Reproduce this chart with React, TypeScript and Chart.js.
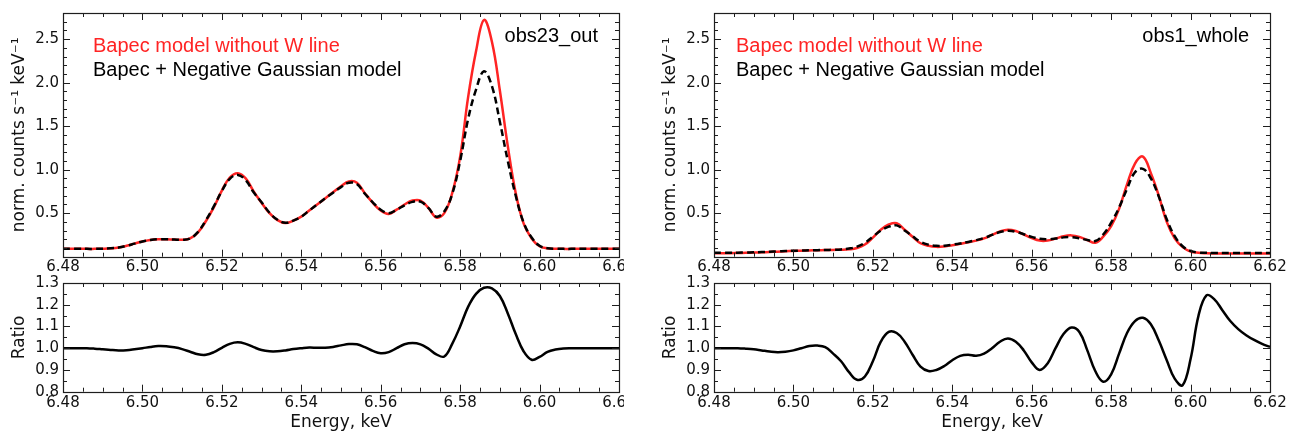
import React, { useEffect, useRef } from "react";
import { Chart, registerables } from "chart.js";

Chart.register(...registerables);

// ---------------- data ----------------
const energy = [
  6.480, 6.482, 6.484, 6.486, 6.488, 6.490, 6.492, 6.494, 6.496, 6.498,
  6.500, 6.502, 6.504, 6.506, 6.508, 6.510, 6.512, 6.514, 6.516, 6.518,
  6.520, 6.522, 6.524, 6.526, 6.528, 6.530, 6.532, 6.534, 6.536, 6.538,
  6.540, 6.542, 6.544, 6.546, 6.548, 6.550, 6.552, 6.554, 6.556, 6.558,
  6.560, 6.562, 6.564, 6.566, 6.568, 6.570, 6.572, 6.574, 6.576, 6.578,
  6.580, 6.582, 6.584, 6.586, 6.588, 6.590, 6.592, 6.594, 6.596, 6.598,
  6.600, 6.602, 6.604, 6.606, 6.608, 6.610, 6.612, 6.614, 6.616, 6.618,
  6.620,
];

// obs23_out : Bapec model without W line
const obs23NoW = [
  0.09, 0.09, 0.09, 0.09, 0.09, 0.092, 0.096, 0.105, 0.125, 0.15,
  0.175, 0.192, 0.2, 0.2, 0.197, 0.195, 0.21, 0.28, 0.41, 0.57,
  0.76, 0.91, 0.96, 0.9, 0.75, 0.62, 0.5, 0.42, 0.386, 0.415,
  0.46, 0.53, 0.6, 0.67, 0.74, 0.81, 0.865, 0.85, 0.73, 0.62,
  0.53, 0.492, 0.54, 0.6, 0.645, 0.645, 0.56, 0.45, 0.5, 0.73,
  1.15, 1.83, 2.36, 2.72, 2.47, 1.91, 1.27, 0.73, 0.38, 0.21,
  0.12, 0.097, 0.092, 0.09, 0.09, 0.09, 0.09, 0.09, 0.09, 0.09,
  0.09,
];
// obs23_out : Bapec + Negative Gaussian model
const obs23NegGauss = [
  0.09, 0.09, 0.09, 0.09, 0.09, 0.092, 0.096, 0.105, 0.125, 0.15,
  0.175, 0.192, 0.2, 0.2, 0.197, 0.195, 0.21, 0.285, 0.42, 0.58,
  0.755, 0.895, 0.94, 0.88, 0.74, 0.625, 0.505, 0.425, 0.39, 0.415,
  0.46, 0.53, 0.6, 0.67, 0.735, 0.8, 0.85, 0.835, 0.725, 0.625,
  0.54, 0.5, 0.54, 0.59, 0.63, 0.633, 0.56, 0.46, 0.52, 0.72,
  1.1, 1.58, 1.92, 2.13, 1.96, 1.55, 1.1, 0.7, 0.39, 0.22,
  0.125, 0.098, 0.092, 0.09, 0.09, 0.09, 0.09, 0.09, 0.09, 0.09,
  0.09,
];
// obs23_out : ratio
const obs23Ratio = [
  1.0, 1.0, 1.0, 1.0, 0.998, 0.995, 0.992, 0.99, 0.991, 0.995,
  1.0, 1.006, 1.01, 1.009, 1.004, 0.996, 0.984, 0.972, 0.97, 0.982,
  1.002, 1.02, 1.027, 1.02, 1.005, 0.992, 0.986, 0.986, 0.99, 0.996,
  1.0, 1.003, 1.002, 1.002, 1.006, 1.013, 1.019, 1.018, 1.005, 0.988,
  0.977, 0.982, 1.0, 1.018, 1.024, 1.018, 0.998, 0.972, 0.962, 1.02,
  1.1, 1.19, 1.25, 1.278, 1.275, 1.24, 1.16, 1.065, 0.985, 0.947,
  0.96, 0.983, 0.994, 0.999, 1.0, 1.0, 1.0, 1.0, 1.0, 1.0,
  1.0,
];

// obs1_whole : Bapec model without W line
const obs1NoW = [
  0.04, 0.04, 0.04, 0.042, 0.044, 0.047, 0.05, 0.054, 0.058, 0.062,
  0.066, 0.069, 0.072, 0.074, 0.076, 0.078, 0.08, 0.085, 0.1, 0.14,
  0.22, 0.31, 0.37, 0.385, 0.31, 0.23, 0.155, 0.125, 0.113, 0.118,
  0.132, 0.148, 0.165, 0.185, 0.21, 0.25, 0.29, 0.31, 0.295, 0.255,
  0.215, 0.185, 0.185, 0.208, 0.235, 0.245, 0.228, 0.19, 0.16, 0.23,
  0.35, 0.55, 0.83, 1.07, 1.15, 0.96, 0.7, 0.4, 0.21, 0.11,
  0.06, 0.045, 0.04, 0.038, 0.038, 0.038, 0.038, 0.038, 0.038, 0.038,
  0.038,
];
// obs1_whole : Bapec + Negative Gaussian model
const obs1NegGauss = [
  0.045, 0.045, 0.045, 0.046, 0.048, 0.05, 0.053, 0.057, 0.061, 0.065,
  0.068, 0.071, 0.073, 0.075, 0.077, 0.08, 0.084, 0.094, 0.115, 0.16,
  0.23, 0.3, 0.345, 0.36, 0.3, 0.235, 0.17, 0.138, 0.125, 0.127,
  0.138, 0.152, 0.17, 0.19, 0.215, 0.25, 0.283, 0.297, 0.287, 0.258,
  0.228, 0.205, 0.2, 0.208, 0.222, 0.225, 0.212, 0.192, 0.18, 0.255,
  0.39, 0.565, 0.78, 0.97, 1.01, 0.9, 0.69, 0.43, 0.235, 0.12,
  0.066, 0.048, 0.045, 0.043, 0.043, 0.043, 0.043, 0.043, 0.043, 0.043,
  0.043,
];
// obs1_whole : ratio
const obs1Ratio = [
  1.0, 1.0, 1.0, 1.0, 0.998, 0.995, 0.99, 0.985, 0.982, 0.984,
  0.99, 1.0, 1.01, 1.012, 1.005, 0.975, 0.94, 0.89, 0.855, 0.87,
  0.94, 1.03, 1.075, 1.07, 1.03, 0.97, 0.915, 0.895, 0.9, 0.918,
  0.945, 0.965, 0.97, 0.965, 0.975, 1.0, 1.03, 1.045, 1.03, 0.99,
  0.935, 0.9, 0.93, 1.0, 1.065, 1.095, 1.075, 0.99, 0.895, 0.846,
  0.88, 0.975, 1.07, 1.125, 1.14, 1.11, 1.035, 0.945, 0.86, 0.83,
  0.95, 1.15, 1.243, 1.225, 1.175, 1.125, 1.088, 1.06, 1.038, 1.02,
  1.006,
];

// axis ranges & ticks
const xRange = [6.48, 6.62];
const xMinorStep = 0.005;
const xMajorMilli = 20; // labels every 0.02 keV
const specRange = [0.0, 2.8];
const specMinorStep = 0.1;
const ratioRange = [0.8, 1.3];
const ratioMinorStep = 0.05;

// text
const legendLabels = ["Bapec model without W line", "Bapec + Negative Gaussian model"];
const panelNames = ["obs23_out", "obs1_whole"];
const specYTitle = "norm. counts s\u207B\u00B9 keV\u207B\u00B9";
const ratioYTitle = "Ratio";
const energyTitle = "Energy, keV";

// ---------------- styles ----------------
const RED = "#ff2424";
const AXIS = "#1e1e1e";
const TICK_FONT = { family: '"DejaVu Sans", sans-serif', size: 15 };
const TITLE_FONT = { family: '"DejaVu Sans", sans-serif', size: 17 };
const CANVAS_W = 643;

const pts = (ys: number[]) => energy.map((x, i) => ({ x, y: ys[i] }));

const framePlugin = {
  id: "mplFrame",
  afterDraw(chart: any, _args: any, opts: any) {
    const { ctx, chartArea: a } = chart;
    const xs = chart.scales.x;
    const ys = chart.scales.y;
    ctx.save();
    ctx.strokeStyle = AXIS;
    ctx.lineWidth = 1;
    ctx.beginPath();
    xs.ticks.forEach((t: any) => {
      const p = Math.round(xs.getPixelForValue(t.value)) + 0.5;
      const len = t.label ? 7 : 4;
      ctx.moveTo(p, a.bottom);
      ctx.lineTo(p, a.bottom - len);
      ctx.moveTo(p, a.top);
      ctx.lineTo(p, a.top + len);
    });
    ys.ticks.forEach((t: any) => {
      const p = Math.round(ys.getPixelForValue(t.value)) + 0.5;
      const len = t.label ? 7 : 4;
      ctx.moveTo(a.left, p);
      ctx.lineTo(a.left + len, p);
      ctx.moveTo(a.right, p);
      ctx.lineTo(a.right - len, p);
    });
    ctx.stroke();
    ctx.lineWidth = 1.2;
    ctx.strokeRect(
      Math.round(a.left) + 0.5,
      Math.round(a.top) + 0.5,
      Math.round(a.right) - Math.round(a.left),
      Math.round(a.bottom) - Math.round(a.top)
    );
    (opts.texts || []).forEach((tx: any) => {
      ctx.font = '20px "Liberation Sans", Arial, sans-serif';
      ctx.fillStyle = tx.color;
      ctx.textBaseline = "middle";
      ctx.textAlign = tx.anchor;
      const x = tx.anchor === "left" ? a.left + tx.dx : a.right - tx.dx;
      ctx.fillText(tx.text, x, a.top + tx.dy);
    });
    ctx.restore();
  },
};

function xScale(padding: number, height: number, title: string | null) {
  return {
    type: "linear",
    min: xRange[0],
    max: xRange[1],
    grid: { display: false, drawTicks: false },
    border: { display: false },
    ticks: {
      stepSize: xMinorStep,
      autoSkip: false,
      maxRotation: 0,
      padding,
      color: "#111",
      font: TICK_FONT,
      callback: (v: number) => (Math.round(v * 1000) % xMajorMilli === 0 ? v.toFixed(2) : ""),
    },
    title: title
      ? { display: true, text: title, color: "#111", font: TITLE_FONT, padding: { top: 0, bottom: 1.1 } }
      : { display: false },
    afterFit: (s: any) => {
      s.height = height;
    },
  };
}

function yScale(range: number[], step: number, isMajor: (v: number) => boolean, title: string) {
  return {
    type: "linear",
    min: range[0],
    max: range[1],
    grid: { display: false, drawTicks: false },
    border: { display: false },
    ticks: {
      stepSize: step,
      autoSkip: false,
      padding: 4,
      color: "#111",
      font: TICK_FONT,
      callback: (v: number) => (isMajor(v) ? v.toFixed(1) : ""),
    },
    title: { display: true, text: title, color: "#111", font: TITLE_FONT, padding: { top: 9.3, bottom: 0 } },
    afterFit: (s: any) => {
      s.width = 63;
    },
  };
}

const lineStyle = { pointRadius: 0, tension: 0.4, fill: false, borderWidth: 2.5 };

function spectrumConfig(noW: number[], negG: number[], name: string, legendDx: number): any {
  return {
    type: "line",
    data: {
      datasets: [
        { ...lineStyle, data: pts(negG), borderColor: "#000", borderDash: [7, 4] },
        { ...lineStyle, data: pts(noW), borderColor: RED },
      ],
    },
    options: {
      responsive: false,
      animation: false,
      events: [],
      layout: { padding: { left: 0, top: 9.3, right: 24, bottom: 0 } },
      plugins: {
        legend: { display: false },
        tooltip: { enabled: false },
        mplFrame: {
          texts: [
            { text: legendLabels[0], color: RED, anchor: "left", dx: legendDx, dy: 33.7 },
            { text: legendLabels[1], color: "#000", anchor: "left", dx: legendDx, dy: 57.7 },
            { text: name, color: "#000", anchor: "right", dx: 21, dy: 23.7 },
          ],
        },
      },
      scales: {
        x: xScale(1.3, 23.3, null),
        y: yScale(
          specRange,
          specMinorStep,
          (v) => {
            const k = Math.round(v * 10);
            return k > 0 && k % 5 === 0;
          },
          specYTitle
        ),
      },
    },
    plugins: [framePlugin],
  };
}

function ratioConfig(ratio: number[]): any {
  return {
    type: "line",
    data: {
      datasets: [{ ...lineStyle, data: pts(ratio), borderColor: "#000" }],
    },
    options: {
      responsive: false,
      animation: false,
      events: [],
      layout: { padding: { left: 0, top: 12.7, right: 24, bottom: 0 } },
      plugins: { legend: { display: false }, tooltip: { enabled: false }, mplFrame: { texts: [] } },
      scales: {
        x: xScale(2.6, 42.3, energyTitle),
        y: yScale(ratioRange, ratioMinorStep, (v) => Math.round(v * 100) % 10 === 0, ratioYTitle),
      },
    },
    plugins: [framePlugin],
  };
}

export default function App() {
  const tl = useRef<HTMLCanvasElement>(null);
  const bl = useRef<HTMLCanvasElement>(null);
  const tr = useRef<HTMLCanvasElement>(null);
  const br = useRef<HTMLCanvasElement>(null);

  useEffect(() => {
    const charts = [
      new Chart(tl.current as HTMLCanvasElement, spectrumConfig(obs23NoW, obs23NegGauss, panelNames[0], 30)),
      new Chart(bl.current as HTMLCanvasElement, ratioConfig(obs23Ratio)),
      new Chart(tr.current as HTMLCanvasElement, spectrumConfig(obs1NoW, obs1NegGauss, panelNames[1], 22)),
      new Chart(br.current as HTMLCanvasElement, ratioConfig(obs1Ratio)),
    ];
    return () => charts.forEach((c) => c.destroy());
  }, []);

  const cv = (top: number, h: number): React.CSSProperties => ({
    position: "absolute",
    left: 0,
    top,
    width: CANVAS_W,
    height: h,
  });

  return (
    <div style={{ position: "absolute", left: 0, top: 0, width: 1294, height: 434, background: "#fff", overflow: "hidden" }}>
      <div style={{ position: "absolute", left: 0, top: 0, width: 624, height: 434, overflow: "hidden" }}>
        <canvas ref={tl} width={CANVAS_W} height={280} style={cv(0, 280)} />
        <canvas ref={bl} width={CANVAS_W} height={164} style={cv(270, 164)} />
      </div>
      <div style={{ position: "absolute", left: 651, top: 0, width: 643, height: 434, overflow: "hidden" }}>
        <canvas ref={tr} width={CANVAS_W} height={280} style={cv(0, 280)} />
        <canvas ref={br} width={CANVAS_W} height={164} style={cv(270, 164)} />
      </div>
    </div>
  );
}
